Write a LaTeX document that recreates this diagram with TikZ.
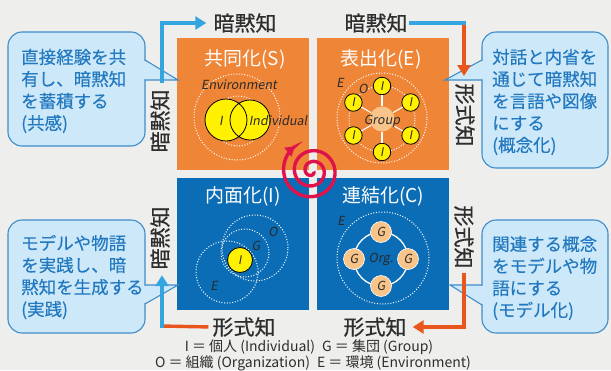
\documentclass[tikz,border=0pt]{standalone}
\usepackage{fontspec}
\setmainfont{Noto Sans CJK JP}
\newfontfamily\itf{Noto Sans CJK JP}[FakeSlant=0.18]
\newfontfamily\jpm{Noto Sans CJK JP}[FakeBold=0.6]
\newfontfamily\jpb{Noto Sans CJK JP}[FakeBold=0.3]
\usetikzlibrary{arrows.meta}
\definecolor{bgc}{HTML}{EEEEEC}
\definecolor{orbox}{HTML}{EF8536}
\definecolor{blbox}{HTML}{0B6DB5}
\definecolor{bubf}{HTML}{CDE8F8}
\definecolor{bubd}{HTML}{3D8DCB}
\definecolor{bubt}{HTML}{2279C0}
\definecolor{arrb}{HTML}{35A5DF}
\definecolor{arrr}{HTML}{E8561D}
\definecolor{spir}{HTML}{E0124B}
\definecolor{yel}{HTML}{FFF100}
\definecolor{grp}{HTML}{F8C489}
\definecolor{dtext}{HTML}{2E2E2E}
\definecolor{itext}{HTML}{2A2A2A}
\begin{document}
\begin{tikzpicture}[x=1pt,y=-1pt,
  quad/.style={minimum width=132pt, minimum height=132pt, inner sep=0pt, draw=none},
  qtitle/.style={text=white, font=\fontsize{19}{21}\selectfont, inner sep=0pt},
  outer/.style={text=dtext, font=\jpm\fontsize{21}{23}\selectfont, inner sep=1pt},
  bubtext/.style={text=bubt, font=\jpb\fontsize{17.5}{22}\selectfont, align=left, inner sep=0pt, anchor=west},
  bubble/.style={fill=bubf, draw=bubd, line width=1.1pt},
  bubedge/.style={draw=bubd, line width=1.1pt},
  dotc/.style={draw=white, line width=1pt, dash pattern=on 1pt off 1.7pt},
  yc/.style={circle, fill=yel, draw=black, line width=0.8pt, inner sep=0pt, text=itext, font=\itf\fontsize{12}{12}\selectfont},
  gc/.style={circle, fill=grp, draw=white, line width=0.6pt, inner sep=0pt, text=itext, font=\itf\fontsize{12.5}{13}\selectfont},
  itl/.style={text=itext, font=\itf\fontsize{12.5}{14}\selectfont, inner sep=0pt},
  barrow/.style={draw=arrb, line width=3.4pt, -{Triangle[length=11pt,width=13pt]}},
  bline/.style={draw=arrb, line width=3.4pt},
  rarrow/.style={draw=arrr, line width=3.4pt, -{Triangle[length=11pt,width=13pt]}},
  rline/.style={draw=arrr, line width=3.4pt},
  legend/.style={text=dtext, font=\fontsize{14}{16}\selectfont, inner sep=0pt}
]
\fill[bgc] (0,0) rectangle (611,370);
\useasboundingbox (0,0) rectangle (611,370);

% quadrants
\node[quad, fill=orbox] (S) at (243,104) {};
\node[quad, fill=orbox] (E) at (383,104) {};
\node[quad, fill=blbox] (I) at (243,244) {};
\node[quad, fill=blbox] (C) at (383,244) {};

\node[qtitle] (St) at (245,59) {共同化(S)};
\node[qtitle] (Et) at (381,59) {表出化(E)};
\node[qtitle] (It) at (243,196) {内面化(I)};
\node[qtitle] (Ct) at (383,196) {連結化(C)};

% S contents
\draw[dotc] (237,117) circle (43pt);
\draw[dotc] (238,121) circle (25pt);
\fill[yel] (226,120) circle (21pt) (250,120) circle (20pt);
\draw[black, line width=0.8pt] (226,120) circle (21pt) (250,120) circle (20pt);
\node[itl] (SEnv) at (239,85) {Environment};
\node[itl] (SI) at (221,121) {I};
\node[itl] (SInd) at (278,121) {Individual};

% E contents
\draw[dotc] (382,118) circle (45pt);
\draw[dotc] (382,119) circle (33pt);
\node[gc, minimum size=25pt, draw=none] (EG) at (382,119) {};
\foreach \a [count=\k] in {90,30,-30,-90,-150,150} {
  \node[yc, minimum size=17.5pt] (Ei\k) at ({382+33*cos(\a)},{119+33*sin(\a)}) {I};
  \draw[white, line width=1.1pt] (EG) -- (Ei\k);
}
\node[itl] (EGt) at (382,121) {Group};
\node[itl] (EE) at (340,83) {E};
\node[itl] (EO) at (363,89) {O};

% I contents
\draw[dotc] (255,248) circle (33pt);
\draw[dotc] (245,253) circle (24pt);
\draw[dotc] (227,272) circle (31pt);
\node[yc, minimum size=25pt] (Iy) at (240,260) {I};
\node[itl] (IO) at (273,232) {O};
\node[itl] (IG) at (256,246) {G};
\node[itl] (IE) at (214,286) {E};

% C contents
\draw[dotc] (383,258) circle (46pt);
\draw[white, line width=1.3pt] (381,259) circle (27pt);
\node[gc, minimum size=21pt] (Cg1) at (381,232) {G};
\node[gc, minimum size=21pt] (Cg2) at (408,259) {G};
\node[gc, minimum size=21pt] (Cg3) at (381,286) {G};
\node[gc, minimum size=21pt] (Cg4) at (354,259) {G};
\node[itl] (Corg) at (381,259) {Org.};
\node[itl] (CE) at (341,221) {E};

% spiral
\draw[spir, line width=3.4pt, -{Triangle[length=9pt,width=11pt]}]
  plot[domain=60:1000, samples=300, smooth] ({312+\x/1000*30*cos(\x-765)},{171+\x/1000*30*sin(\x-765)});

% callouts
\draw[bubble, rounded corners=14pt] (8,32) rectangle (145,146);
\fill[bubf] (144,60.6) -- (178,80) -- (144,79.4) -- cycle;
\draw[bubedge] (145,60) -- (178,80) -- (145,80);
\draw[bubble, rounded corners=14pt] (482,32) rectangle (608,168);
\fill[bubf] (483,60.6) -- (445,80) -- (483,79.4) -- cycle;
\draw[bubedge] (482,60) -- (445,80) -- (482,80);
\draw[bubble, rounded corners=14pt] (8,220) rectangle (145,333);
\fill[bubf] (144,285.6) -- (178,285) -- (144,303.4) -- cycle;
\draw[bubedge] (145,285) -- (178,285) -- (145,304);
\draw[bubble, rounded corners=14pt] (482,220) rectangle (608,333);
\fill[bubf] (483,285.6) -- (450,285) -- (483,304.4) -- cycle;
\draw[bubedge] (482,285) -- (450,285) -- (482,305);

\node[bubtext] (b1) at (21,91) {直接経験を共\\有し、暗黙知\\を蓄積する\\(共感)};
\node[bubtext] (b2) at (492,102) {対話と内省を\\通じて暗黙知\\を言語や図像\\にする\\(概念化)};
\node[bubtext] (b3) at (21,277) {モデルや物語\\を実践し、暗\\黙知を生成する\\(実践)};
\node[bubtext] (b4) at (492,278) {関連する概念\\をモデルや物\\語にする\\(モデル化)};

% outer labels
\node[outer] (tTL) at (245,23) {暗黙知};
\node[outer] (tTR) at (376,23) {暗黙知};
\node[outer, rotate=90] (tL1) at (160,121) {暗黙知};
\node[outer, rotate=90] (tL2) at (160,238) {暗黙知};
\node[outer, rotate=-90] (tR1) at (465,115) {形式知};
\node[outer, rotate=-90] (tR2) at (464,237) {形式知};
\node[outer] (tB1) at (244,327) {形式知};
\node[outer] (tB2) at (375,327) {形式知};

% arrows
\coordinate (a1s) at (162,83);
\draw[barrow, shorten >=6pt] (a1s) |- (tTL.west);
\coordinate (a2c) at (464,21.3);
\coordinate (a2e) at (464,76);
\coordinate (a2b) at (465.7,23);
\draw[rarrow] (a2c) -- (a2e);
\draw[bline] (tTR.east) -- (a2b);
\coordinate (a3s) at (464,273);
\draw[rarrow, shorten >=5pt] (a3s) |- (tB2.east);
\coordinate (a4r) at (160.3,326);
\coordinate (a4c) at (162,327.7);
\draw[rline, shorten <=3pt] (tB1.west) -- (a4r);
\draw[barrow, shorten >=4.5pt] (a4c) -- (a4c |- tL2.west);

% legend
\node[legend] (lg1) at (309,347) {I ＝ 個人 (Individual)\hspace{0.5em}G ＝ 集団 (Group)};
\node[legend] (lg2) at (313,363) {O ＝ 組織 (Organization)\hspace{0.5em}E ＝ 環境 (Environment)};
\end{tikzpicture}
\end{document}
